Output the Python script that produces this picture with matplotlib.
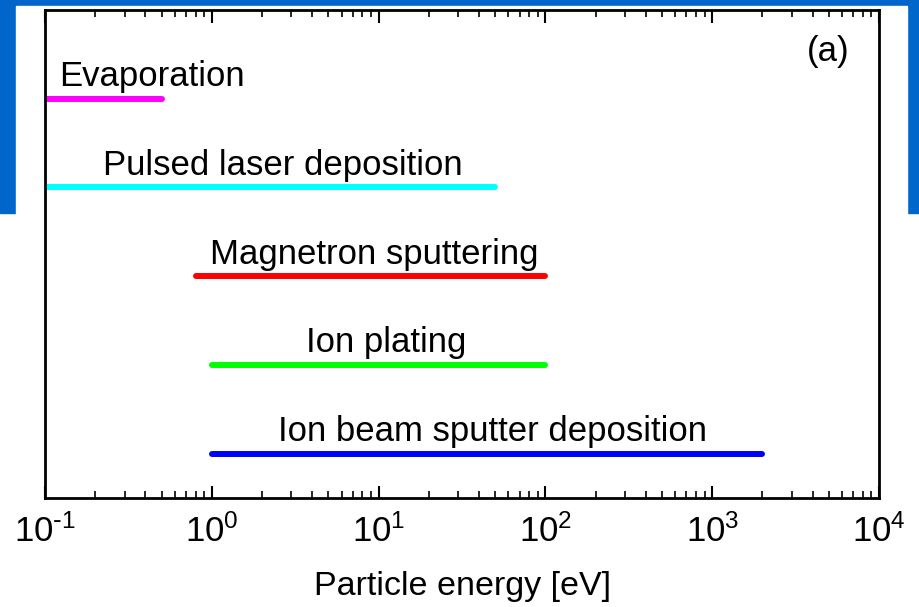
import numpy as np
import matplotlib.pyplot as plt
from matplotlib.patches import Rectangle
from matplotlib.ticker import LogLocator, FuncFormatter

plt.rcParams['font.family'] = ['Liberation Sans', 'DejaVu Sans']
plt.rcParams['mathtext.default'] = 'regular'

# deposition methods and their particle energy ranges (eV)
methods = ['Evaporation', 'Pulsed laser deposition', 'Magnetron sputtering',
           'Ion plating', 'Ion beam sputter deposition']
e_low = [0.1, 0.1, 0.8, 1.0, 1.0]
e_high = [0.5, 50, 100, 100, 2000]
label_x = [0.44, 2.67, 9.4, 11.1, 48]
colors = ['#ff00ff', '#00ffff', '#ff0000', '#00ff00', '#0000ff']
rows = [5, 4, 3, 2, 1]

fig = plt.figure(figsize=(9.19, 6.07), dpi=100)
fig.patches.append(Rectangle((0, 1 - 213/607), 1, 213/607, transform=fig.transFigure,
                             color='#0066cc', zorder=0))
fig.patches.append(Rectangle((16/919, 0), 891/919, 1 - 6/607, transform=fig.transFigure,
                             color='white', zorder=1))

ax = fig.add_axes([45/919, 109/607, 834/919, 488/607])
ax.set_zorder(2)

for m, lo, hi, lx, c, r in zip(methods, e_low, e_high, label_x, colors, rows):
    ax.plot([lo, hi], [r, r], color=c, lw=4.3, solid_capstyle='round')
    ax.text(lx, r + 0.14, m, ha='center', va='baseline', fontsize=25)


def fmt(v, pos):
    e = int(round(np.log10(v)))
    if e < 0:
        return r'$10^{\text{-}%d}$' % (-e)
    return r'$10^{%d}$' % e


ax.set_xscale('log')
ax.set_xlim(0.1, 1e4)
ax.set_ylim(0.5, 6.0)
ax.set_yticks([])
ax.xaxis.set_major_formatter(FuncFormatter(fmt))
ax.xaxis.set_minor_locator(LogLocator(base=10, subs=np.arange(2, 10)))
ax.tick_params(axis='x', which='major', direction='in', top=True, length=9, width=1.5,
               labelsize=25, pad=12)
ax.tick_params(axis='x', which='minor', direction='in', top=True, length=5, width=1.2)
for s in ax.spines.values():
    s.set_linewidth(2)

ax.set_xlabel('Particle energy [eV]', fontsize=24.5, labelpad=16)
ax.text(0.939, 0.914, '(a)', transform=ax.transAxes, ha='center', va='center', fontsize=25)

fig.savefig('out.png', dpi=100)
